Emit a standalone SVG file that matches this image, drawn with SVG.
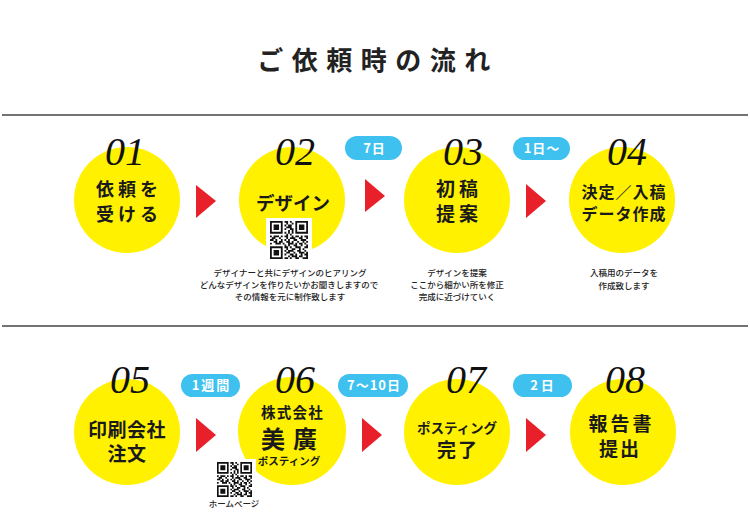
<svg xmlns="http://www.w3.org/2000/svg" xmlns:xlink="http://www.w3.org/1999/xlink" width="750" height="528" viewBox="0 0 750 528">
<defs>
<style>
.c{fill:#fff100}
.ar{fill:#e8202a}
.bd{fill:#3ec1ef}
.bt{font-family:"Noto Sans CJK JP","Noto Sans",sans-serif;font-weight:700;font-size:13px;fill:#fff;text-anchor:middle}
.num{font-family:"Liberation Serif",serif;font-style:italic;font-size:40px;fill:#111;text-anchor:middle}
.jp{font-family:"Noto Sans CJK JP","Noto Sans",sans-serif;font-weight:700;fill:#1a1a1a;text-anchor:middle}
.sm{font-family:"Noto Sans CJK JP","Noto Sans",sans-serif;font-weight:500;font-size:8.5px;fill:#222;text-anchor:middle}
.rule{stroke:#444;stroke-width:1.5}
</style>
<symbol id="qr" viewBox="0 0 21 21">
<path fill="#111" fill-rule="evenodd" d="M0 0h7v7h-7z M1 1h5v5h-5z M2 2h3v3h-3z M14 0h7v7h-7z M15 1h5v5h-5z M16 2h3v3h-3z M0 14h7v7h-7z M1 15h5v5h-5z M2 16h3v3h-3z"/>
<path fill="#111" d="M8 0h2v1h-2z M11 0h1v1h-1z M9 1h1v1h-1z M12 1h1v1h-1z M8 2h1v1h-1z M10 2h2v1h-2z M9 3h3v1h-3z M8 4h1v1h-1z M11 4h2v1h-2z M10 5h1v1h-1z M12 5h1v1h-1z M8 6h1v1h-1z M10 6h1v1h-1z M12 6h1v1h-1z M9 7h1v1h-1z M11 7h1v1h-1z M0 8h1v1h-1z M2 8h3v1h-3z M6 8h1v1h-1z M8 8h2v1h-2z M12 8h1v1h-1z M14 8h2v1h-2z M17 8h1v1h-1z M19 8h2v1h-2z M1 9h2v1h-2z M5 9h1v1h-1z M9 9h1v1h-1z M11 9h3v1h-3z M16 9h2v1h-2z M20 9h1v1h-1z M0 10h2v1h-2z M3 10h1v1h-1z M6 10h1v1h-1z M8 10h1v1h-1z M10 10h1v1h-1z M13 10h2v1h-2z M17 10h3v1h-3z M2 11h2v1h-2z M5 11h2v1h-2z M9 11h2v1h-2z M12 11h1v1h-1z M15 11h1v1h-1z M18 11h1v1h-1z M20 11h1v1h-1z M0 12h1v1h-1z M3 12h3v1h-3z M7 12h1v1h-1z M10 12h3v1h-3z M14 12h1v1h-1z M16 12h2v1h-2z M19 12h1v1h-1z M8 13h1v1h-1z M10 13h1v1h-1z M13 13h2v1h-2z M17 13h1v1h-1z M20 13h1v1h-1z M8 14h2v1h-2z M11 14h1v1h-1z M14 14h3v1h-3z M19 14h2v1h-2z M9 15h1v1h-1z M12 15h2v1h-2z M16 15h1v1h-1z M18 15h1v1h-1z M8 16h1v1h-1z M10 16h3v1h-3z M15 16h2v1h-2z M19 16h1v1h-1z M9 17h2v1h-2z M13 17h1v1h-1z M16 17h3v1h-3z M20 17h1v1h-1z M8 18h1v1h-1z M11 18h2v1h-2z M14 18h1v1h-1z M17 18h1v1h-1z M19 18h2v1h-2z M10 19h1v1h-1z M12 19h3v1h-3z M16 19h2v1h-2z M20 19h1v1h-1z M8 20h2v1h-2z M11 20h1v1h-1z M14 20h2v1h-2z M18 20h3v1h-3z"/>
</symbol>
</defs>
<rect width="750" height="528" fill="#fff"/>
<text x="378" y="70" font-family="'Noto Sans CJK JP','Noto Sans',sans-serif" font-weight="700" font-size="26" letter-spacing="8.5" fill="#222" text-anchor="middle">ご依頼時の流れ</text>
<g id="rules">
<line class="rule" x1="2" y1="115" x2="748" y2="115"/>
<line class="rule" x1="2" y1="326" x2="748" y2="326"/>
</g>
<g id="connectors">
<polygon class="ar" points="196,185 216,201 196,218"/>
<polygon class="ar" points="365,179 385,196 365,212"/>
<polygon class="ar" points="526,184 546,201 526,218"/>
<polygon class="ar" points="196,418 216,435 196,452"/>
<polygon class="ar" points="362,418 382,435 362,452"/>
<polygon class="ar" points="526,418 546,435 526,452"/>
<g id="badge-7d"><rect class="bd" x="345" y="136" width="57" height="24" rx="12"/><text class="bt" x="374.5" y="153" letter-spacing="1">7日</text></g>
<g id="badge-1d"><rect class="bd" x="513" y="137" width="57" height="23" rx="11.5"/><text class="bt" x="542" y="153" letter-spacing="1">1日〜</text></g>
<g id="badge-1w"><rect class="bd" x="181" y="374" width="59" height="23" rx="11.5"/><text class="bt" x="211.5" y="390" letter-spacing="2">1週間</text></g>
<g id="badge-7-10d"><rect class="bd" x="338" y="374" width="70" height="23" rx="11.5"/><text class="bt" x="374" y="390" letter-spacing="1">7〜10日</text></g>
<g id="badge-2d"><rect class="bd" x="513" y="374" width="59" height="23" rx="11.5"/><text class="bt" x="543.5" y="390" letter-spacing="3">2日</text></g>
</g>
<g id="step01">
<circle class="c" cx="127" cy="200" r="53"/>
<text class="num" x="125" y="165">01</text>
<text class="jp" font-size="18" letter-spacing="4" x="129" y="196">依頼を</text>
<text class="jp" font-size="18" letter-spacing="4" x="129" y="221">受ける</text>
</g>
<g id="step02">
<circle class="c" cx="292" cy="200" r="53"/>
<text class="num" x="295" y="165">02</text>
<text class="jp" font-size="18.5" x="293" y="210">デザイン</text>
<rect x="266" y="218" width="46" height="44" fill="#fff"/>
<use xlink:href="#qr" href="#qr" x="270" y="221" width="38" height="38"/>
<text class="sm" x="290" y="276">デザイナーと共にデザインのヒアリング</text>
<text class="sm" x="289" y="288">どんなデザインを作りたいかお聞きしますので</text>
<text class="sm" x="290" y="300">その情報を元に制作致します</text>
</g>
<g id="step03">
<circle class="c" cx="457" cy="200" r="53"/>
<text class="num" x="463" y="165">03</text>
<text class="jp" font-size="19" letter-spacing="4" x="459" y="196">初稿</text>
<text class="jp" font-size="19" letter-spacing="4" x="459" y="221">提案</text>
<text class="sm" x="457" y="276">デザインを提案</text>
<text class="sm" x="457" y="288">ここから細かい所を修正</text>
<text class="sm" x="457" y="300">完成に近づけていく</text>
</g>
<g id="step04">
<circle class="c" cx="622" cy="200" r="53"/>
<text class="num" x="627" y="165">04</text>
<text class="jp" font-size="16" letter-spacing="1" x="624" y="198">決定／入稿</text>
<text class="jp" font-size="16" letter-spacing="1" x="624" y="220">データ作成</text>
<text class="sm" x="624" y="276">入稿用のデータを</text>
<text class="sm" x="624" y="289">作成致します</text>
</g>
<g id="step05">
<circle class="c" cx="127" cy="432" r="53"/>
<text class="num" x="130" y="393">05</text>
<text class="jp" font-size="19" letter-spacing="0.5" x="127" y="437">印刷会社</text>
<text class="jp" font-size="19" letter-spacing="0.5" x="127" y="461">注文</text>
</g>
<g id="step06">
<circle class="c" cx="292" cy="431" r="54"/>
<text class="num" x="295" y="393">06</text>
<text class="jp" font-size="14.5" letter-spacing="1.2" x="292.5" y="418">株式会社</text>
<text class="jp" font-size="24" letter-spacing="8" x="293" y="448">美廣</text>
<text class="jp" font-size="10.5" x="289" y="465">ポスティング</text>
<rect x="214" y="459" width="42" height="40" fill="#fff"/>
<use xlink:href="#qr" href="#qr" x="217" y="462" width="35" height="35"/>
<text class="sm" font-size="7" x="234" y="507">ホームページ</text>
</g>
<g id="step07">
<circle class="c" cx="457" cy="432" r="53"/>
<text class="num" x="466" y="393">07</text>
<text class="jp" font-size="13.5" x="457" y="433">ポスティング</text>
<text class="jp" font-size="19" letter-spacing="2" x="458" y="457">完了</text>
</g>
<g id="step08">
<circle class="c" cx="623" cy="432" r="53"/>
<text class="num" x="625" y="393">08</text>
<text class="jp" font-size="19" letter-spacing="3" x="621.5" y="431">報告書</text>
<text class="jp" font-size="19" letter-spacing="2" x="620" y="456">提出</text>
</g>
</svg>
